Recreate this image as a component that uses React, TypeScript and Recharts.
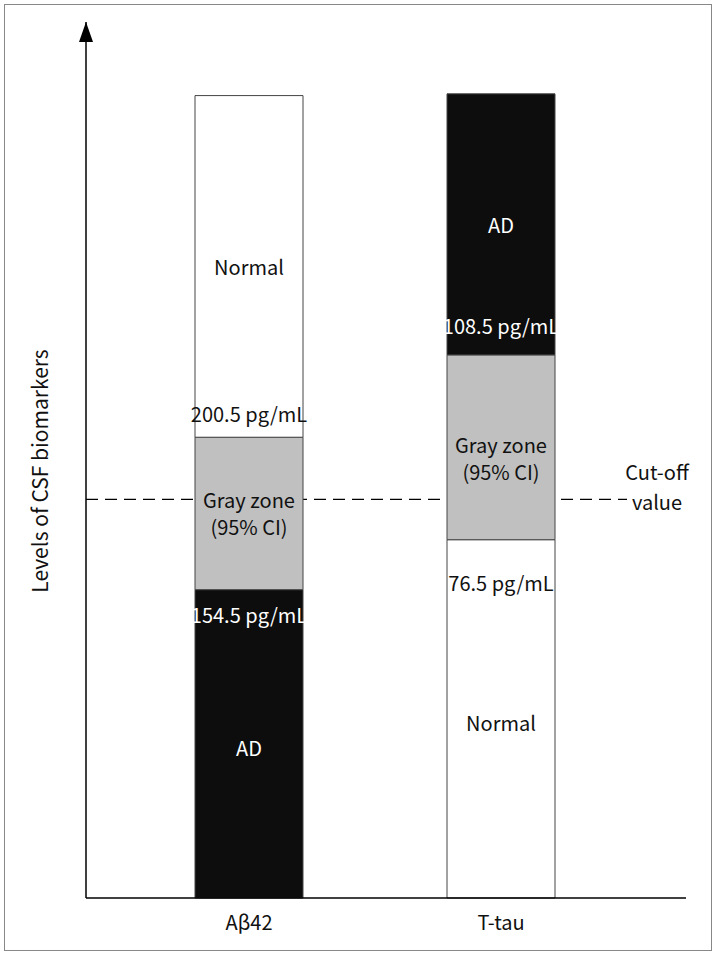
import React from "react";
import { BarChart, Bar, XAxis, YAxis, ReferenceLine, LabelList, Cell } from "recharts";

// schematic levels, 0-100 scale
const categories = ["Aβ42", "T-tau"];
const lowerZone = [35.2, 40.9];
const grayZone = [17.4, 21.1];
const upperZone = [39.0, 29.8];
const lowerNames = ["AD", "Normal"];
const upperNames = ["Normal", "AD"];
const lowerCutoffs = ["154.5 pg/mL", "76.5 pg/mL"];
const upperCutoffs = ["200.5 pg/mL", "108.5 pg/mL"];
const cutoffLevel = 45.5;

const FONT = "'Noto Sans CJK KR', 'Noto Sans', sans-serif";
const FS = 20;
// label nudges (px) so text sits where the original put it
const lowerCutoffGap = [25, 43];
const upperCutoffGap = [24, 29];
const grayShift = [0, 11];

const zoneColor = (name: string) => (name === "AD" ? "#0d0d0d" : "#ffffff");
const textColor = (name: string) => (name === "AD" ? "#ffffff" : "#111111");

const data = categories.map((name, i) => ({
  name,
  lower: lowerZone[i],
  gray: grayZone[i],
  upper: upperZone[i],
}));

const LowerLabel = (props: any) => {
  const { x, y, width, height, index } = props;
  const name = lowerNames[index];
  const cx = x + width / 2;
  return (
    <g fontFamily={FONT} fontSize={FS} fill={textColor(name)} textAnchor="middle">
      <text x={cx} y={y + height / 2 + 4} dominantBaseline="central">{name}</text>
      <text x={cx} y={y + lowerCutoffGap[index]} dominantBaseline="central">{lowerCutoffs[index]}</text>
    </g>
  );
};

const UpperLabel = (props: any) => {
  const { x, y, width, height, index } = props;
  const name = upperNames[index];
  const cx = x + width / 2;
  return (
    <g fontFamily={FONT} fontSize={FS} fill={textColor(name)} textAnchor="middle">
      <text x={cx} y={y + height / 2} dominantBaseline="central">{name}</text>
      <text x={cx} y={y + height - upperCutoffGap[index]} dominantBaseline="central">{upperCutoffs[index]}</text>
    </g>
  );
};

const GrayLabel = (props: any) => {
  const { x, y, width, height, index } = props;
  const cx = x + width / 2;
  const cy = y + height / 2 + grayShift[index];
  return (
    <g fontFamily={FONT} fontSize={FS} fill="#111" textAnchor="middle">
      <text x={cx} y={cy - 14} dominantBaseline="central">Gray zone</text>
      <text x={cx} y={cy + 13} dominantBaseline="central">(95% CI)</text>
    </g>
  );
};

const CutoffLabel = (props: any) => {
  const vb = props.viewBox || {};
  const right = vb.x + vb.width;
  const y = vb.y;
  return (
    <g fontFamily={FONT} fontSize={FS} fill="#111" textAnchor="middle">
      <rect x={right - 59} y={y - 6} width={80} height={12} fill="#fff" />
      <text x={right - 29} y={y - 28} dominantBaseline="central">Cut-off</text>
      <text x={right - 29} y={y + 2} dominantBaseline="central">value</text>
    </g>
  );
};

const YLabel = (props: any) => {
  const vb = props.viewBox || {};
  const x = vb.x + 3;
  const y = vb.y + vb.height / 2 + 11;
  return (
    <text x={x} y={y} transform={`rotate(-90 ${x} ${y})`} textAnchor="middle"
      dominantBaseline="central" fontFamily={FONT} fontSize={21} fill="#111">
      Levels of CSF biomarkers
    </text>
  );
};

export default function App() {
  return (
    <div style={{ position: "absolute", left: 0, top: 0, width: 717, height: 956, background: "#fff" }}>
      <svg width={0} height={0} style={{ position: "absolute" }}>
        <defs>
          <marker id="yArrow" markerUnits="userSpaceOnUse" markerWidth={20} markerHeight={14}
            viewBox="0 -7 20 14" refX={20} refY={0} orient="auto-start-reverse">
            <path d="M0,-7 L20,0 L0,7 z" fill="#000" />
          </marker>
        </defs>
      </svg>
      <div style={{
        position: "absolute", left: 4, top: 4, width: 708, height: 947,
        border: "1.5px solid #888", boxSizing: "border-box", pointerEvents: "none",
      }} />
      <BarChart width={717} height={956} data={data}
        margin={{ top: 22, right: 31, bottom: 28, left: 36 }}>
        <XAxis dataKey="name" axisLine={{ stroke: "#000", strokeWidth: 1.5 }} tickLine={false}
          padding={{ left: 37, right: 59 }} tickMargin={12} height={30}
          tick={{ fontSize: FS, fill: "#111", fontFamily: FONT }} />
        <YAxis domain={[0, 100]} ticks={[]} tick={false} tickLine={false} width={50}
          axisLine={{ stroke: "#000", strokeWidth: 1.5, markerStart: "url(#yArrow)" }}
          label={<YLabel />} />
        <ReferenceLine y={cutoffLevel} stroke="#000" strokeWidth={1.4} strokeDasharray="12 7"
          zIndex={-1} label={<CutoffLabel />} />
        <Bar dataKey="lower" stackId="z" barSize={108} stroke="#444" strokeWidth={1} isAnimationActive={false}>
          {data.map((d, i) => <Cell key={d.name} fill={zoneColor(lowerNames[i])} />)}
          <LabelList dataKey="lower" content={<LowerLabel />} />
        </Bar>
        <Bar dataKey="gray" stackId="z" barSize={108} fill="#c0c0c0" stroke="#444" strokeWidth={1} isAnimationActive={false}>
          <LabelList dataKey="gray" content={<GrayLabel />} />
        </Bar>
        <Bar dataKey="upper" stackId="z" barSize={108} stroke="#444" strokeWidth={1} isAnimationActive={false}>
          {data.map((d, i) => <Cell key={d.name} fill={zoneColor(upperNames[i])} />)}
          <LabelList dataKey="upper" content={<UpperLabel />} />
        </Bar>
      </BarChart>
    </div>
  );
}
